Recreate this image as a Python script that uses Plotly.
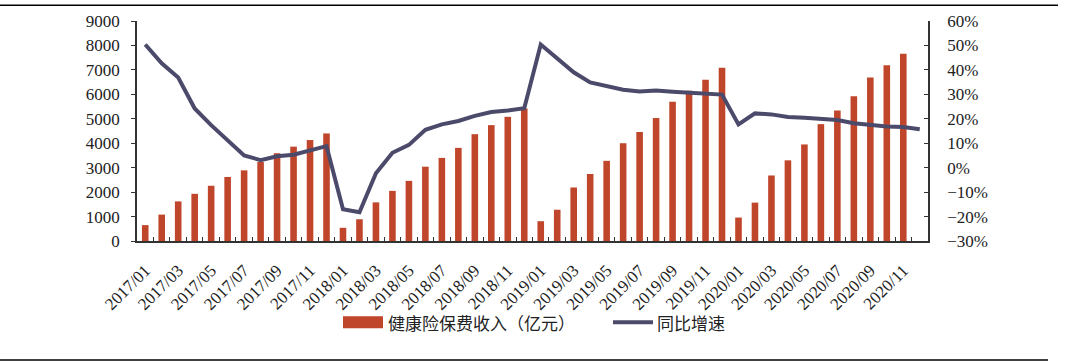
import plotly.graph_objects as go

months = [f"{y}/{m:02d}" for y in range(2017, 2021) for m in range(1, 13)]

premium = [650, 1080, 1620, 1930, 2260, 2620, 2890, 3230, 3590, 3860, 4130, 4400,
           540, 890, 1580, 2050, 2460, 3040, 3400, 3810, 4370, 4740, 5080, 5420,
           810, 1280, 2190, 2740, 3280, 4000, 4460, 5030, 5700, 6150, 6600, 7090,
           960, 1570, 2680, 3300, 3950, 4780, 5340, 5920, 6690, 7190, 7660, None]

growth = [50.4, 42.7, 36.9, 24.2, 17.4, 11.0, 5.0, 3.1, 4.7, 5.3, 6.9, 8.8,
          -17.0, -18.2, -2.3, 6.1, 9.3, 15.5, 17.7, 19.1, 21.2, 22.8, 23.4, 24.3,
          50.4, 44.7, 39.0, 34.9, 33.5, 31.9, 31.2, 31.6, 31.1, 30.6, 30.1, 29.9,
          17.7, 22.2, 21.8, 20.7, 20.4, 19.9, 19.5, 18.2, 17.4, 16.8, 16.6, 15.7]
growth_frac = [g / 100 for g in growth]

tick_labels = [m if i % 2 == 0 else "" for i, m in enumerate(months)]

bar_name = "健康险保费收入（亿元）"
line_name = "同比增速"
BAR_COLOR = "#C0462B"
LINE_COLOR = "#4B4A6B"

W, H = 1069, 364
L, R, T, B = 137, 141, 19, 123
PW, PH = W - L - R, H - T - B


def px(x):
    return (x - L) / PW


def py(y):
    return (H - B - y) / PH


fig = go.Figure()
fig.add_trace(go.Bar(x=months, y=premium, name=bar_name, marker_color=BAR_COLOR,
                     marker_line_width=0, yaxis="y"))
fig.add_trace(go.Scatter(x=months, y=growth_frac, name=line_name, mode="lines",
                         line=dict(color=LINE_COLOR, width=4), yaxis="y2"))

serif = "Liberation Serif"
cjk = "Noto Sans CJK SC"

fig.update_layout(
    width=W, height=H,
    margin=dict(l=L, r=R, t=T, b=B),
    paper_bgcolor="white", plot_bgcolor="white",
    showlegend=False,
    bargap=0.6,
    font=dict(family=serif),
    xaxis=dict(type="category", tickvals=months, ticktext=tick_labels,
               tickangle=-45, tickson="boundaries", ticks="inside", ticklen=4,
               tickcolor="#333", showline=True, linecolor="#333", linewidth=1.5,
               showgrid=False, ticklabelstandoff=11,
               tickfont=dict(family=serif, size=17, color="#222")),
    yaxis=dict(range=[0, 9000], dtick=1000, showgrid=False, zeroline=False,
               showline=True, linecolor="#333", linewidth=1.5, ticks="outside",
               ticklen=4, tickcolor="#333", tickformat="d", ticklabelstandoff=8,
               tickfont=dict(family=serif, size=17, color="#222")),
    yaxis2=dict(range=[-0.3, 0.6], dtick=0.1, tickformat=".0%", overlaying="y",
                side="right", showgrid=False, zeroline=False, showline=True,
                linecolor="#333", linewidth=1.5, ticks="inside", ticklen=4,
                tickcolor="#333", ticklabelstandoff=14,
                tickfont=dict(family=serif, size=17, color="#222")),
    shapes=[
        dict(type="line", xref="paper", yref="paper", x0=px(0), x1=px(1058),
             y0=py(3), y1=py(3), line=dict(color="black", width=1.5)),
        dict(type="line", xref="paper", yref="paper", x0=px(0), x1=px(1048),
             y0=py(361), y1=py(361), line=dict(color="black", width=1.5)),
        dict(type="rect", xref="paper", yref="paper", x0=px(343), x1=px(383),
             y0=py(329), y1=py(317), fillcolor=BAR_COLOR, line_width=0),
        dict(type="line", xref="paper", yref="paper", x0=px(613), x1=px(653),
             y0=py(323), y1=py(323), line=dict(color=LINE_COLOR, width=4)),
    ],
    annotations=[
        dict(text=bar_name, xref="paper", yref="paper", x=px(386), y=py(323),
             xanchor="left", yanchor="middle", showarrow=False,
             font=dict(family=cjk, size=17, color="#222")),
        dict(text=line_name, xref="paper", yref="paper", x=px(655), y=py(323),
             xanchor="left", yanchor="middle", showarrow=False,
             font=dict(family=cjk, size=17, color="#222")),
    ],
)

fig.write_html("out.html", config={"displayModeBar": False},
               post_script="document.body.style.margin='0px';")
